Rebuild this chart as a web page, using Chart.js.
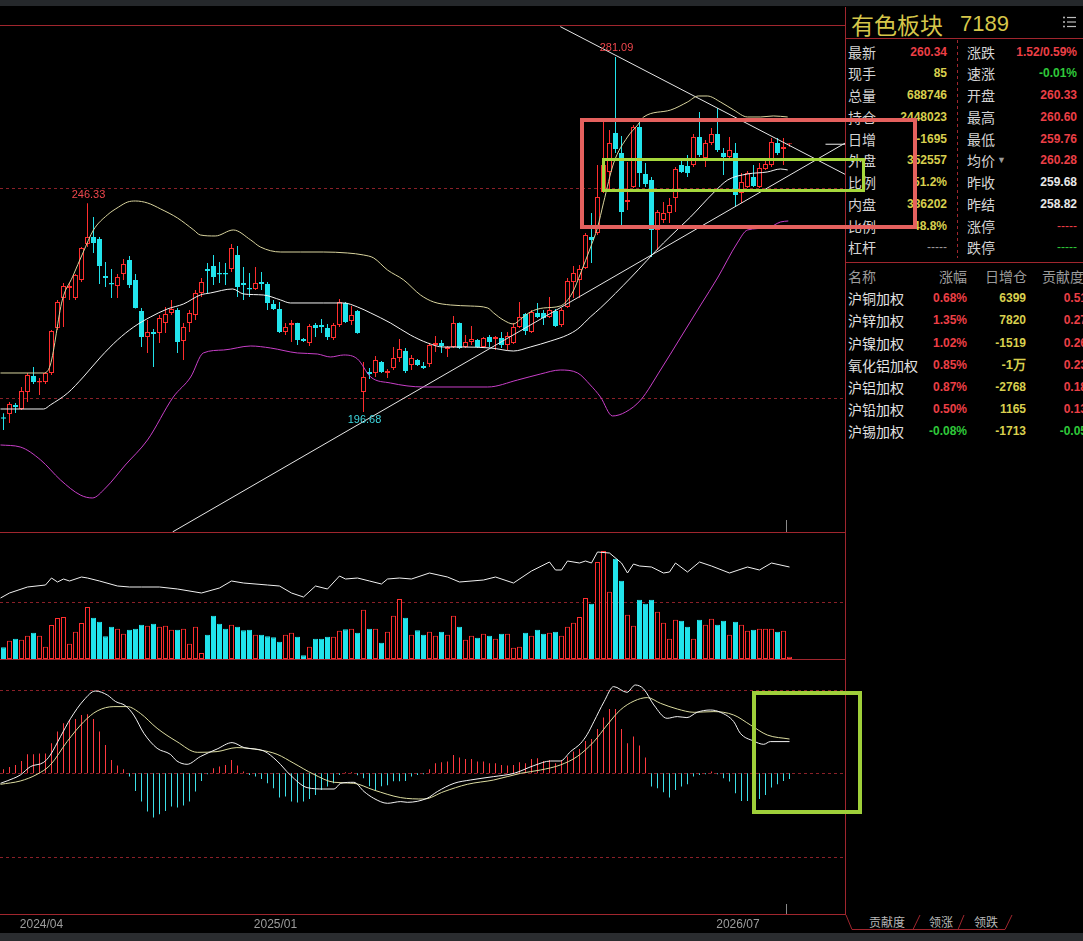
<!DOCTYPE html>
<html lang="zh-CN">
<head>
<meta charset="UTF-8">
<meta name="viewport" content="width=device-width, initial-scale=1.0">
<title>有色板块 7189 周K线</title>
<script src="https://cdn.jsdelivr.net/npm/chart.js"></script>
<style>
    html, body { margin: 0; padding: 0; background: #000; }
    body { position: relative; width: 1083px; height: 941px; overflow: hidden; font-family: "Liberation Sans", Arial, sans-serif; }
    canvas { position: absolute; left: 0; }
    #overlay { position: absolute; left: 0; top: 0; }
    .t { position: absolute; line-height: 20px; white-space: nowrap; }
    .lbl { font-size: 14px; font-family: "Noto Sans CJK SC", sans-serif; color: #d4d4d4; }
    .hdr { font-size: 14px; font-family: "Noto Sans CJK SC", sans-serif; color: #9c9c9c; }
    .val { font-size: 12px; font-weight: bold; text-align: right; }
    .red { color: #ec3f46; }
    .yel { color: #d8cf4e; }
    .grn { color: #2fc83a; }
    .wht { color: #e8e8e8; }
    .gray { color: #9a9a9a; font-weight: normal; }
    .tab { font-size: 12px; font-family: "Noto Sans CJK SC", sans-serif; color: #b8b8b8; line-height: 16px; }
</style>
</head>
<body>
    <canvas id="priceChart" width="845" height="507" style="top:25px;width:845px;height:507px"></canvas>
    <canvas id="volChart" width="845" height="126" style="top:533px;width:845px;height:126px"></canvas>
    <canvas id="macdChart" width="845" height="273" style="top:660px;width:845px;height:273px"></canvas>

    <div class="t" style="left:851px;top:11px;font-size:23px;line-height:26px;font-family:'Noto Sans CJK SC';color:#d6c64a">有色板块</div>
    <div class="t" style="left:960px;top:11px;font-size:22px;line-height:26px;color:#d6c64a">7189</div>

    <svg id="overlay" width="1083" height="941"></svg>

<script>
    // weekly candles, oldest first
    const openP = [195.41,196.19,198.33,197.38,201.42,205.23,203.68,203.80,205.94,216.64,
        223.78,226.15,223.78,228.06,236.62,238.28,237.81,229.01,227.34,226.63,
        229.49,232.81,228.06,220.69,214.50,215.69,215.45,217.83,220.21,220.92,
        213.55,217.83,219.73,224.97,230.67,231.39,229.72,229.72,230.67,234.00,
        227.34,226.15,225.92,227.58,227.10,222.35,221.16,215.69,217.35,217.83,
        214.02,213.07,217.35,217.35,216.64,214.26,217.35,222.59,218.31,220.69,
        201.42,206.18,205.94,208.56,205.94,207.13,209.51,211.17,207.84,209.03,
        207.61,208.08,212.60,213.07,211.65,212.12,217.83,212.12,213.31,213.79,
        212.12,214.50,214.02,214.26,212.60,213.07,216.88,219.97,215.69,220.21,
        220.21,219.26,220.69,217.35,221.64,227.58,228.06,230.91,238.28,239.23,
        248.98,253.74,263.01,258.26,246.60,250.17,264.44,253.26,251.84,239.95,
        242.32,243.99,247.56,255.40,255.17,255.40,262.06,257.07,260.63,262.77,
        258.26,257.31,258.26,248.74,250.17,252.55,250.17,254.45,255.40,260.63,
        259.21,260.33];
    const highP = [196.36,199.04,198.81,202.61,205.94,207.37,204.75,206.18,216.17,223.30,
        227.34,227.34,229.49,235.91,246.33,243.04,238.28,232.34,230.67,229.49,
        233.05,233.76,229.49,221.40,218.54,216.40,219.73,221.64,223.30,221.40,
        217.83,220.92,225.68,228.53,232.10,234.00,232.34,232.10,236.62,236.14,
        231.15,229.72,231.15,229.96,227.58,223.30,222.82,217.83,218.54,217.90,
        214.26,217.59,217.83,218.78,217.59,217.83,223.54,222.82,221.87,220.92,
        208.56,207.13,209.98,208.80,206.89,212.12,214.02,211.89,210.22,209.27,
        208.56,213.07,214.74,213.79,212.36,219.50,217.95,214.98,217.12,214.02,
        214.50,214.98,214.74,215.69,215.69,217.83,222.82,220.21,220.92,222.59,
        220.92,224.01,221.16,221.40,228.53,231.39,231.63,239.23,243.99,255.40,
        265.63,263.73,281.09,262.30,256.12,264.92,265.63,255.88,252.55,244.70,
        246.60,247.56,254.93,257.07,257.78,262.77,268.01,261.35,264.20,268.96,
        259.45,262.06,260.63,253.50,253.98,255.40,255.88,256.59,261.82,261.82,
        261.82,260.60];
    const lowP = [192.39,194.05,196.43,197.14,199.04,203.32,200.71,203.32,205.47,216.17,
        216.88,223.30,223.30,227.58,235.91,234.48,227.10,226.39,223.78,223.78,
        228.06,226.15,221.30,212.12,210.70,207.37,213.07,215.45,219.73,210.70,
        209.03,215.69,218.54,224.01,224.97,226.87,227.34,226.87,229.96,224.01,
        223.30,224.01,225.68,225.68,220.92,220.92,215.45,214.98,213.31,212.60,
        213.31,212.36,214.50,215.45,213.79,213.79,216.88,217.83,217.35,215.30,
        196.68,204.51,204.99,205.94,204.75,206.65,208.56,205.94,206.65,207.61,
        206.89,207.37,210.93,210.70,209.75,211.89,211.65,211.89,212.60,211.89,
        211.89,212.12,211.41,211.89,211.41,212.84,216.64,214.98,215.45,219.02,
        217.35,219.02,216.88,216.88,221.40,223.78,223.78,230.67,232.10,238.76,
        248.74,249.46,258.26,241.14,244.70,249.93,250.17,250.17,233.53,235.19,
        241.61,241.61,244.23,253.50,252.55,254.93,257.31,254.93,260.16,258.49,
        253.03,257.07,245.42,246.37,249.93,250.17,249.93,254.22,254.93,257.78,
        255.40,259.76];
    const closeP = [195.07,198.57,197.86,201.66,205.47,203.80,204.04,205.94,215.93,222.82,
        226.63,226.63,229.25,235.67,238.28,236.86,231.39,228.53,226.99,228.77,
        231.86,226.87,221.40,214.50,215.69,215.21,219.02,219.97,221.16,213.31,
        216.88,220.21,224.97,227.58,230.20,228.77,229.37,229.37,235.67,226.39,
        226.87,225.80,227.34,227.10,222.59,221.16,215.69,216.88,217.83,213.79,
        213.55,217.12,216.64,216.88,214.50,217.35,222.82,218.07,219.73,215.45,
        204.99,205.70,209.03,206.18,206.42,209.51,211.65,206.42,209.51,207.84,
        207.13,212.60,213.07,212.36,212.12,217.83,211.89,213.31,214.02,212.12,
        214.26,213.31,214.50,212.60,214.74,216.88,219.26,215.93,220.45,219.26,
        219.02,220.92,217.12,220.92,227.82,229.72,230.67,238.76,237.57,247.79,
        255.40,260.63,259.21,244.23,247.08,264.44,253.50,250.89,239.95,244.23,
        243.99,245.89,254.45,253.74,253.50,262.06,257.78,260.63,262.77,258.97,
        257.31,258.97,248.27,251.36,253.50,250.41,254.69,255.64,260.87,258.26,
        259.68,260.34];

    // weekly volume, 万手
    const volume = [351,549,609,579,699,789,699,369,1020,1230,
        1260,459,819,1080,1560,1239,1119,681,969,909,
        759,879,909,1029,999,1059,969,999,879,879,
        909,459,969,180,729,1299,1059,909,1029,969,
        861,879,729,729,681,651,519,729,789,669,
        111,369,609,609,669,669,849,891,909,789,
        1479,909,909,489,819,1299,1800,1239,729,861,
        729,819,699,819,729,1299,969,579,699,639,
        759,699,609,759,759,339,369,789,699,879,
        759,789,819,699,969,1089,1260,1830,1659,2910,
        3240,2019,3009,2349,1329,999,1779,1659,1779,1419,
        1089,609,1179,1149,969,609,1179,1029,1209,1029,
        1149,729,1119,1029,849,879,909,909,909,819,
        849,69];

    // open interest (万手), [week index, value]
    const openInterest = [[-0.5,182.8],[1,192.8],[4,204.8],[7,208.8],[8,222.8],[9,214.8],[10,220.8],[11,216.8],
        [13,224.8],[14,222.8],[16,216.8],[19,206.8],[21,204.8],[23,204.8],[26,204.8],[29,200.8],[33,192.8],
        [36,202.8],[38,216.8],[40,212.8],[44,208.8],[46,206.8],[48,192.8],[50,184.8],[52,206.8],[54,200.8],
        [56,226.8],[57,220.8],[59,222.8],[61,216.8],[63,210.8],[64,220.8],[66,222.8],[68,220.8],[71,232.8],
        [74,224.8],[76,214.8],[80,218.8],[82,224.8],[85,212.8],[88,236.8],[91,254.8],[92,238.8],[93,238.8],
        [94,256.8],[96,252.8],[97,256.8],[98,252.8],[99,274.8],[101,272.8],[103,252.8],[104,232.8],[105,250.8],
        [106,246.8],[108,244.8],[110,232.8],[111,234.8],[112,252.8],[114,234.8],[116,254.8],[118,246.8],
        [121,232.8],[124,244.8],[126,238.8],[128,252.8],[131,244.8]];

    // Bollinger bands, [week index, price]
    const bollUpper = [[-0.5,205.94],[6.7,205.94],[7.8,207.84],[9.8,223.30],[11.5,228.77],[13.3,234.71],[15,239.95],
        [17.3,243.51],[19.2,245.42],[20.7,246.60],[22,246.84],[24,246.37],[26.2,244.94],[29,242.80],[31.7,239.95],
        [32.8,238.76],[35.3,238.52],[38.3,239.95],[41.2,237.57],[42.8,235.91],[46.2,234.71],[49.5,234.71],
        [53.3,234.71],[57.3,234.48],[60,234.00],[61.7,233.29],[64,230.43],[66.7,228.06],[69.5,224.49],[71.7,222.82],
        [74.5,222.11],[77.8,221.87],[80.7,221.40],[81.7,220.21],[83.3,218.54],[85,217.59],[86.2,218.78],[87.8,220.45],
        [90,221.40],[92.8,221.87],[94.8,224.97],[96.2,229.72],[97.8,235.67],[99,240.50],[100,246.40],[101.7,255.88],
        [104,262.06],[105.7,264.92],[106.7,266.82],[111.2,268.48],[114,270.38],[115.8,271.81],[117.3,271.81],
        [119.5,270.38],[121.7,268.48],[124,266.82],[126.2,266.82],[128.3,267.06],[130.7,266.82]];
    const bollMid = [[-0.5,197.38],[6.7,197.38],[7.8,198.33],[10.7,201.18],[13.3,204.99],[16.2,209.75],[19,213.79],
        [21.7,216.88],[24.5,219.26],[27.3,221.16],[30,222.35],[32.8,224.49],[34.5,224.97],[38.2,225.92],[40,224.73],
        [43.3,224.49],[46.2,223.30],[47.8,222.59],[53.3,222.59],[56.7,222.59],[59,221.64],[61.2,220.21],[64.5,217.83],
        [67.8,214.98],[70.7,213.07],[73.3,212.12],[76.7,212.12],[81.2,211.89],[85,211.17],[87.8,212.12],[91.2,213.55],
        [94,214.98],[95.7,216.40],[97.8,219.26],[99.5,221.40],[104.5,228.53],[110,236.86],[114.5,243.04],
        [118.3,248.74],[120.7,251.84],[124,253.26],[127.3,253.74],[129.5,254.45],[130.7,254.22]];
    const bollLower = [[-0.5,188.82],[2.8,188.34],[6.2,185.25],[9.5,180.50],[12.8,176.93],[14.8,176.22],[17,178.59],
        [20.3,184.06],[24,190.01],[28.3,200.23],[31.2,204.99],[33.3,210.70],[36.7,211.41],[41.2,212.36],[44.5,211.89],
        [49,210.70],[52.3,210.46],[54.5,209.75],[56.7,210.22],[59,209.27],[61.2,204.99],[64.5,203.56],[70,202.61],
        [80.7,202.61],[85.7,204.28],[89.5,205.70],[92.8,206.65],[95.7,205.94],[97.8,203.09],[99.5,200.23],
        [101.5,195.72],[103.7,196.67],[106.2,199.52],[109.5,206.65],[112.8,214.26],[116.2,222.11],[119,228.53],
        [122.3,236.86],[124,239.95],[127.3,240.42],[129.5,241.85],[130.8,242.09]];

    // hand-drawn trend lines, [week index, price]
    const trendDown = [[92.8,288.3],[140.3,253.15]];
    const trendUp = [[28.2,168.16],[140.3,260.64]];
    const lastPriceMark = [[137,260.34],[140.3,260.34]];

    // MACD
    const macdHist = [0.40,0.63,0.83,1.23,1.90,1.90,1.97,1.97,3.00,4.17,
        5.00,5.33,5.43,5.83,5.90,5.43,4.17,2.83,1.33,0.77,
        0.40,-0.33,-1.77,-2.83,-3.83,-4.43,-4.10,-3.77,-3.33,-3.43,
        -3.23,-2.83,-1.83,-0.77,-0.10,0.50,0.67,0.83,1.33,0.77,
        0.17,-0.17,-0.33,-0.57,-1.00,-1.50,-2.43,-2.33,-2.83,-2.93,
        -2.83,-2.57,-2.17,-1.67,-1.33,-1.00,-0.17,0.10,0.10,-0.20,
        -0.50,-1.30,-1.70,-1.30,-1.20,-0.80,-0.80,
        -0.77,-0.33,-0.17,-0.10,0.40,1.00,1.10,1.17,1.83,1.57,
        1.43,1.43,1.17,1.17,1.00,1.00,0.83,0.77,0.83,1.10,
        1.00,1.43,1.50,1.23,1.33,1.00,1.33,1.67,2.17,2.43,
        3.23,3.43,4.43,5.57,6.43,6.43,4.43,3.00,3.67,2.77,
        1.57,-1.33,-1.50,-1.90,-2.43,-1.67,-1.33,-1.10,-0.33,-0.17,
        -0.10,0.17,-0.10,-0.50,-0.83,-2.00,-2.77,-2.77,-2.80,-2.57,
        -2.17,-1.43,-1.10,-0.77,-0.57];
    const macdDif = [[-0.5,-1.0],[1.7,-0.5],[2.8,-0.17],[4.5,0.67],[6.7,1.1],[7.8,1.83],[9.5,3.67],[11.2,5.5],
        [13.4,7.33],[15.3,8.23],[17.3,7.83],[18.7,7.17],[20.3,6.77],[21.7,5.83],[23.4,4.0],[25.6,2.5],[27.8,1.9],
        [28.9,1.23],[30.6,0.9],[32.8,1.67],[35.6,2.43],[38.1,3.07],[40.1,2.57],[43.4,2.23],[45.6,1.23],[47.8,-0.17],
        [50.6,-1.43],[53.4,-1.57],[55.1,-1.57],[56.2,-1.0],[58.4,-0.9],[60.1,-1.83],[61.7,-2.5],[64,-3.0],[66.2,-2.83],
        [67.3,-2.9],[70.6,-2.5],[72.3,-1.83],[75.1,-1.0],[77.8,-0.67],[81.7,-0.33],[85.1,0],[88.4,0.77],[91.2,1.23],
        [92.8,1.23],[94.5,2.17],[96.2,3.0],[97.3,3.9],[98.4,5.17],[100.1,7.17],[101.7,8.67],[103.9,8.1],[105.3,8.83],
        [106.7,8.43],[108.4,6.83],[110.6,5.5],[112.3,5.67],[113.9,5.57],[115.6,6.1],[117.8,6.33],[119.5,6.1],
        [121.7,5.17],[122.8,4.0],[125,3.23],[126.7,2.9],[127.8,3.17],[131,3.17]];
    const macdDea = [[-0.5,-1.1],[2.8,-0.77],[5.6,-0.1],[7.8,0.83],[10.6,3.17],[13.4,5.17],[15.6,6.23],[18.4,6.67],
        [20.6,6.67],[22.8,6.0],[25.6,4.5],[28.9,3.17],[32.3,2.1],[35.6,2.17],[38.9,2.57],[42.8,2.33],[45.6,1.9],
        [48.4,1.0],[51.7,-0.1],[55.1,-0.9],[58.4,-1.0],[61.7,-1.67],[66.2,-2.43],[70.1,-2.57],[73.4,-1.83],
        [77.3,-1.1],[81.7,-0.67],[86.2,0],[89.5,0.33],[92.8,0.83],[95.6,1.67],[98.4,3.17],[100.6,4.83],[102.8,6.33],
        [105.1,7.23],[107.3,7.57],[109.5,7.0],[112.3,6.43],[115.1,6.1],[118.4,6.17],[121.7,5.83],[124.5,4.83],
        [127.3,3.83],[131,3.43]];

    // time axis
    const tickPos = [6.33, 45.33, 122.4];
    const tickText = ['2024/04', '2025/01', '2026/07'];

    // quote board
    const quoteLeft = [['最新','260.34','red'],['现手','85','yel'],['总量','688746','yel'],['持仓','2448023','yel'],
        ['日增','-1695','yel'],['外盘','352557','yel'],['比例','51.2%','yel'],['内盘','336202','yel'],
        ['比例','48.8%','yel'],['杠杆','-----','gray']];
    const quoteRight = [['涨跌','1.52/0.59%','red'],['速涨','-0.01%','grn'],['开盘','260.33','red'],['最高','260.60','red'],
        ['最低','259.76','red'],['均价','260.28','red'],['昨收','259.68','wht'],['昨结','258.82','wht'],
        ['涨停','-----','red'],['跌停','-----','grn']];
    const members = ['沪铜加权','沪锌加权','沪镍加权','氧化铝加权','沪铝加权','沪铅加权','沪锡加权'];
    const memberChg = ['0.68%','1.35%','1.02%','0.85%','0.87%','0.50%','-0.08%'];
    const memberOI = ['6399','7820','-1519','-1万','-2768','1165','-1713'];
    const memberContrib = ['0.51','0.27','0.26','0.23','0.18','0.13','-0.05'];

    const RED = '#ff2e2e';
    const CYAN = '#22e4ec';
    const GRID = '#8a2028';
    const X_MIN = -0.5833;
    const X_MAX = X_MIN + 845 / 6;

    const weeks = closeP.map((_, i) => i);
    const isUp = weeks.map(i => closeP[i] >= openP[i]);
    const pts = arr => arr.map(([x, y]) => ({x, y}));

    // dashed horizontal guide lines
    const dashLines = {
        id: 'dashLines',
        beforeDatasetsDraw(chart, args, opts) {
            const ys = chart.scales[opts.axis || 'y'];
            const {left, right} = chart.chartArea;
            const ctx = chart.ctx;
            ctx.save();
            ctx.strokeStyle = opts.color;
            ctx.lineWidth = 1;
            ctx.setLineDash([3, 3]);
            opts.values.forEach(v => {
                const py = Math.round(ys.getPixelForValue(v)) + 0.5;
                ctx.beginPath();
                ctx.moveTo(left, py);
                ctx.lineTo(right, py);
                ctx.stroke();
            });
            ctx.restore();
        }
    };

    // highest / lowest price labels
    const extremeLabels = {
        id: 'extremeLabels',
        afterDatasetsDraw(chart, args, opts) {
            const {x, y} = chart.scales;
            const ctx = chart.ctx;
            ctx.save();
            ctx.font = '11px "Liberation Sans", Arial';
            ctx.textAlign = 'center';
            ctx.textBaseline = 'middle';
            opts.items.forEach(it => {
                ctx.fillStyle = it.color;
                ctx.fillText(it.v.toFixed(2), x.getPixelForValue(it.i) + 1, y.getPixelForValue(it.v) + it.dy);
            });
            ctx.restore();
        }
    };

    Chart.defaults.animation = false;
    Chart.defaults.font.family = '"Liberation Sans", Arial, sans-serif';

    const baseOptions = () => ({
        responsive: false,
        animation: false,
        events: [],
        layout: { padding: 0 },
        plugins: { legend: { display: false }, tooltip: { enabled: false } }
    });
    const xHidden = { type: 'linear', min: X_MIN, max: X_MAX, offset: false, display: false };
    const line = (data, color, order, extra) => Object.assign({
        type: 'line', data: pts(data), borderColor: color, borderWidth: 1,
        pointRadius: 0, fill: false, order, cubicInterpolationMode: 'monotone'
    }, extra || {});

    // main K-line panel
    const priceOpts = baseOptions();
    priceOpts.plugins.dashLines = { values: [200, 250], color: GRID };
    priceOpts.plugins.extremeLabels = { items: [
        { i: 102, v: highP[102], dy: -9, color: '#f0474d' },
        { i: 14, v: highP[14], dy: -8, color: '#f0474d' },
        { i: 60, v: lowP[60], dy: 8, color: '#3fd6de' }
    ] };
    priceOpts.scales = { x: xHidden, y: { type: 'linear', min: 168.13, max: 288.69, display: false } };

    new Chart(document.getElementById('priceChart'), {
        type: 'bar',
        data: { datasets: [
            line(bollUpper, '#d9d49e', 1),
            line(bollMid, '#f2f2f2', 1),
            line(bollLower, '#c83fc8', 1),
            line(trendDown, '#e6e6e6', 1, { cubicInterpolationMode: 'default' }),
            line(trendUp, '#e6e6e6', 1, { cubicInterpolationMode: 'default' }),
            line(lastPriceMark, '#f0f0f0', 1, { cubicInterpolationMode: 'default' }),
            {
                type: 'bar', data: weeks.map(i => ({x: i, y: [openP[i], closeP[i]]})),
                backgroundColor: weeks.map(i => isUp[i] ? '#000' : CYAN),
                borderColor: weeks.map(i => isUp[i] ? RED : CYAN),
                borderWidth: 1, borderSkipped: false, barThickness: 5, minBarLength: 1,
                grouped: false, inflateAmount: 0, order: 5
            },
            {
                type: 'bar', data: weeks.map(i => ({x: i, y: [lowP[i], highP[i]]})),
                backgroundColor: weeks.map(i => isUp[i] ? RED : CYAN),
                borderWidth: 0, barThickness: 1, grouped: false, inflateAmount: 0, order: 6
            }
        ] },
        options: priceOpts,
        plugins: [dashLines, extremeLabels]
    });

    // volume + open interest panel
    const volOpts = baseOptions();
    volOpts.plugins.dashLines = { values: [1720], color: GRID };
    volOpts.scales = {
        x: xHidden,
        y: { type: 'linear', min: 0, max: 3780, display: false },
        y2: { type: 'linear', min: 60.8, max: 312.8, display: false }
    };
    new Chart(document.getElementById('volChart'), {
        type: 'bar',
        data: { datasets: [
            line(openInterest, '#f0f0f0', 1, { yAxisID: 'y2', cubicInterpolationMode: 'default' }),
            {
                type: 'bar', data: weeks.map(i => ({x: i, y: volume[i]})), yAxisID: 'y',
                backgroundColor: weeks.map(i => isUp[i] ? '#000' : CYAN),
                borderColor: weeks.map(i => isUp[i] ? RED : CYAN),
                borderWidth: 1, borderSkipped: false, barThickness: 5,
                grouped: false, inflateAmount: 0, order: 5
            }
        ] },
        options: volOpts,
        plugins: [dashLines]
    });

    // MACD panel with the time axis
    const macdOpts = baseOptions();
    macdOpts.plugins.dashLines = { values: [8.3, 0, -8.35], color: GRID };
    macdOpts.scales = {
        x: {
            type: 'linear', min: X_MIN, max: X_MAX, offset: false,
            grid: { display: false, drawTicks: false }, border: { display: false },
            afterBuildTicks: axis => { axis.ticks = tickPos.map(v => ({ value: v })); },
            afterFit: axis => { axis.height = 19; },
            ticks: {
                autoSkip: false, maxRotation: 0, minRotation: 0, padding: 3,
                color: '#9c9c9c', font: { size: 12 },
                callback: v => { const k = tickPos.indexOf(v); return k >= 0 ? tickText[k] : ''; }
            }
        },
        y: { type: 'linear', min: -14.07, max: 11.33, display: false }
    };
    new Chart(document.getElementById('macdChart'), {
        type: 'bar',
        data: { datasets: [
            line(macdDif, '#f2f2f2', 1),
            line(macdDea, '#dcdca0', 1),
            {
                type: 'bar', data: weeks.map(i => ({x: i, y: macdHist[i]})),
                backgroundColor: weeks.map(i => macdHist[i] >= 0 ? '#ff3a40' : '#3ee0e8'),
                borderWidth: 0, barThickness: 1, grouped: false, inflateAmount: 0, order: 5
            }
        ] },
        options: macdOpts,
        plugins: [dashLines]
    });

    // quote board text
    function put(text, cls, style) {
        const d = document.createElement('div');
        d.className = 't ' + cls;
        d.textContent = text;
        Object.assign(d.style, style);
        document.body.insertBefore(d, document.getElementById('overlay'));
        return d;
    }
    quoteLeft.forEach((r, i) => {
        const top = (41.5 + i * 21.75) + 'px';
        put(r[0], 'lbl', { left: '848px', top });
        put(r[1], 'val ' + r[2], { right: '136px', top });
    });
    quoteRight.forEach((r, i) => {
        const top = (41.5 + i * 21.75) + 'px';
        put(r[0], 'lbl', { left: '967px', top });
        put(r[1], 'val ' + r[2], { right: '6px', top, fontWeight: r[1] === '-----' ? 'normal' : 'bold' });
        if (r[0] === '均价') put('▼', 'gray', { left: '997px', top, fontSize: '9px' });
    });
    put('名称', 'hdr', { left: '848px', top: '265.5px' });
    put('涨幅', 'hdr', { right: '116px', top: '265.5px' });
    put('日增仓', 'hdr', { right: '56px', top: '265.5px' });
    put('贡献度', 'hdr', { left: '1042px', top: '265.5px' });
    members.forEach((name, i) => {
        const top = (288.3 + i * 22.1) + 'px';
        const neg = memberChg[i].startsWith('-');
        put(name, 'lbl', { left: '848px', top, color: '#e2e2e2' });
        put(memberChg[i], 'val ' + (neg ? 'grn' : 'red'), { right: '116px', top });
        put(memberOI[i], 'val yel', { right: '57px', top, fontSize: memberOI[i].includes('万') ? '13px' : '12px' });
        put(memberContrib[i], 'val ' + (memberContrib[i].startsWith('-') ? 'grn' : 'red'), { right: '-4px', top });
    });
    [['贡献度', 869], ['领涨', 929], ['领跌', 974]].forEach(([t, x]) => put(t, 'tab', { left: x + 'px', top: '914px' }));

    // frame lines, tabs and the hand-drawn boxes
    const frame = `
        <rect x="0" y="0" width="1083" height="6" fill="#25282b"/>
        <rect x="0" y="933" width="1083" height="8" fill="#2a2c2f"/>
        <g stroke="#a0262e" stroke-width="1" fill="none">
            <line x1="0" y1="25.5" x2="845" y2="25.5"/>
            <line x1="0" y1="532.5" x2="845" y2="532.5"/>
            <line x1="0" y1="659.5" x2="845" y2="659.5"/>
            <line x1="0" y1="914.5" x2="845" y2="914.5"/>
            <line x1="845.5" y1="7" x2="845.5" y2="915"/>
            <line x1="845" y1="38.5" x2="1083" y2="38.5"/>
            <line x1="845" y1="262.5" x2="1083" y2="262.5"/>
            <line x1="957.5" y1="40" x2="957.5" y2="258" stroke-dasharray="3,3"/>
            <path d="M846 915 L852 929.5 L1005 929.5 L1012 915 M913 929.5 L920 915 M958 929.5 L964 915"/>
        </g>
        <g stroke="#8a8a8a" stroke-width="1">
            <line x1="786.5" y1="520" x2="786.5" y2="532"/>
            <line x1="786.5" y1="904" x2="786.5" y2="914"/>
        </g>
        <g fill="#bdbdbd" stroke="#bdbdbd" stroke-width="1.2">
            <circle cx="1064" cy="17.5" r="1" stroke="none"/>
            <circle cx="1064" cy="22" r="1" stroke="none"/>
            <circle cx="1064" cy="26.5" r="1" stroke="none"/>
            <line x1="1067" y1="17.5" x2="1076" y2="17.5"/>
            <line x1="1067" y1="22" x2="1076" y2="22"/>
            <line x1="1067" y1="26.5" x2="1076" y2="26.5"/>
        </g>
        <g fill="none">
            <rect x="582" y="120" width="333" height="107" stroke="#e5615e" stroke-width="4"/>
            <rect x="603.5" y="159.5" width="260" height="31" stroke="#a6d83c" stroke-width="3"/>
            <rect x="754" y="693" width="106" height="119" stroke="#9fcf3a" stroke-width="4"/>
        </g>`;
    document.getElementById('overlay').innerHTML = frame;
</script>
</body>
</html>
